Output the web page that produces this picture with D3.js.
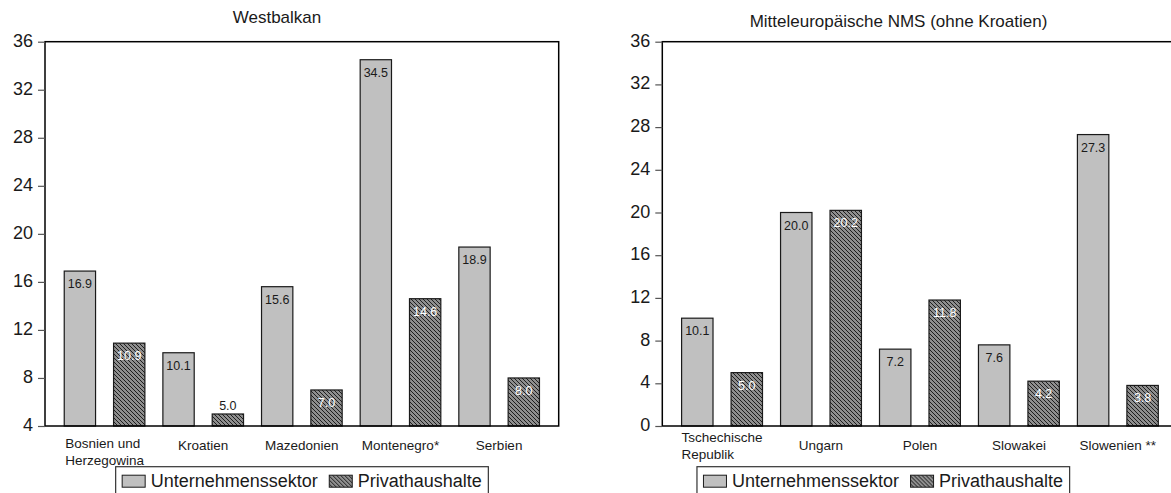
<!DOCTYPE html>
<html><head><meta charset="utf-8">
<script src="https://cdn.jsdelivr.net/npm/d3@7"></script>
<style>
html,body{margin:0;padding:0;background:#fff;}
svg{display:block;font-family:"Liberation Sans",Arial,sans-serif;}
</style></head><body>
<svg id="chart" width="1171" height="493"></svg>
<script>
// ---------- data ----------
const seriesNames = ["Unternehmenssektor", "Privathaushalte"];

const wbTitle = "Westbalkan";
const wbCategories = [["Bosnien und", "Herzegowina"], ["Kroatien"], ["Mazedonien"], ["Montenegro*"], ["Serbien"]];
const wbUnternehmen = [16.9, 10.1, 15.6, 34.5, 18.9];
const wbPrivat = [10.9, 5.0, 7.0, 14.6, 8.0];
const wbTicks = [4, 8, 12, 16, 20, 24, 28, 32, 36];

const nmsTitle = "Mitteleuropäische NMS (ohne Kroatien)";
const nmsCategories = [["Tschechische", "Republik"], ["Ungarn"], ["Polen"], ["Slowakei"], ["Slowenien **"]];
const nmsUnternehmen = [10.1, 20.0, 7.2, 7.6, 27.3];
const nmsPrivat = [5.0, 20.2, 11.8, 4.2, 3.8];
const nmsTicks = [0, 4, 8, 12, 16, 20, 24, 28, 32, 36];

// ---------- drawing ----------
const svg = d3.select("#chart");
const defs = svg.append("defs");
const pat = defs.append("pattern").attr("id", "hatch")
  .attr("patternUnits", "userSpaceOnUse").attr("width", 4).attr("height", 4);
pat.append("rect").attr("width", 4).attr("height", 4).attr("fill", "#8e8e8e");
pat.append("path").attr("d", "M-1,-1L5,5M3,-1L5,1M-1,3L1,5")
  .attr("stroke", "#1e1e1e").attr("stroke-width", 1);

const fills = ["#c0c0c0", "url(#hatch)"];
const TOP = 41.7, BOTTOM = 426;

function panel(cfg) {
  const g = svg.append("g");
  const n = cfg.cats.length;
  const keys = [];
  for (let i = 0; i < n; i++) { keys.push(i + "|0"); keys.push(i + "|1"); }
  const x = d3.scaleBand().domain(keys).range([cfg.x0, cfg.x1])
    .paddingInner(0.365).paddingOuter(0.39);
  const y = d3.scaleLinear().domain([cfg.ticks[0], cfg.ticks[cfg.ticks.length - 1]]).range([BOTTOM, TOP]);
  const bw = x.bandwidth();

  const data = [];
  for (let i = 0; i < n; i++) {
    data.push({ i, s: 0, v: cfg.u[i] });
    data.push({ i, s: 1, v: cfg.p[i] });
  }

  // bars
  g.selectAll("rect.bar").data(data).enter().append("rect")
    .attr("class", "bar")
    .attr("x", d => x(d.i + "|" + d.s))
    .attr("y", d => y(d.v))
    .attr("width", bw)
    .attr("height", d => y(cfg.ticks[0]) - y(d.v))
    .attr("fill", d => fills[d.s])
    .attr("stroke", "#1a1a1a").attr("stroke-width", 1.2);

  // value labels
  g.selectAll("text.val").data(data).enter().append("text")
    .attr("class", "val")
    .attr("x", d => x(d.i + "|" + d.s) + bw / 2)
    .attr("y", d => (y(cfg.ticks[0]) - y(d.v) < 22) ? y(d.v) - 4 : y(d.v) + 17)
    .attr("text-anchor", "middle")
    .attr("font-size", 12.5)
    .attr("fill", d => (d.s === 1 && y(cfg.ticks[0]) - y(d.v) >= 22) ? "#ffffff" : "#1a1a1a")
    .text(d => d.v.toFixed(1));

  // frame
  g.append("rect").attr("x", cfg.x0).attr("y", TOP)
    .attr("width", cfg.x1 - cfg.x0).attr("height", BOTTOM - TOP)
    .attr("fill", "none").attr("stroke", "#000").attr("stroke-width", 1.5);

  // y axis
  const ax = g.append("g").attr("transform", `translate(${cfg.x0},0)`)
    .call(d3.axisLeft(y).tickValues(cfg.ticks).tickSize(7).tickPadding(5).tickFormat(d3.format("d")));
  ax.select(".domain").remove();
  ax.selectAll(".tick line").attr("stroke", "#555").attr("stroke-width", 1.2);
  ax.selectAll(".tick text").attr("font-size", 18).attr("fill", "#1a1a1a")
    .attr("font-family", "Liberation Sans, Arial, sans-serif").attr("dy", "0.25em");

  // category labels
  cfg.cats.forEach((lines, i) => {
    const cx = (x(i + "|0") + x(i + "|1") + bw) / 2;
    const t = g.append("text").attr("font-size", 13.5).attr("fill", "#1a1a1a");
    if (lines.length === 1) {
      t.attr("x", cx).attr("y", 449.5).attr("text-anchor", "middle").text(lines[0]);
    } else {
      lines.forEach((ln, k) => {
        t.append("tspan").attr("y", cfg.multiY + k * 17).text(ln);
      });
      // widest line centred, lines left aligned
      let maxW = 0;
      t.selectAll("tspan").each(function () { maxW = Math.max(maxW, this.getComputedTextLength()); });
      t.selectAll("tspan").attr("x", cx - maxW / 2);
    }
  });

  // title
  g.append("text").attr("x", cfg.titleX).attr("y", cfg.titleY)
    .attr("text-anchor", "middle").attr("font-size", 17).attr("fill", "#1a1a1a")
    .text(cfg.title);

  // legend
  const lg = g.append("g");
  const boxTop = 466.7;
  const items = seriesNames.map((name, s) => {
    const it = lg.append("g");
    it.append("rect").attr("width", 23).attr("height", 12).attr("y", boxTop + 8.5)
      .attr("fill", fills[s]).attr("stroke", "#1a1a1a").attr("stroke-width", 1);
    const tx = it.append("text").attr("x", 28.5).attr("y", boxTop + 20.5)
      .attr("font-size", 18).attr("fill", "#1a1a1a").text(name);
    return { it, w: 28.5 + tx.node().getComputedTextLength() };
  });
  const totalW = 6.5 + items[0].w + 11.5 + items[1].w + 6.5;
  const left = cfg.legendCX - totalW / 2;
  lg.insert("rect", ":first-child").attr("x", left).attr("y", boxTop)
    .attr("width", totalW).attr("height", 34)
    .attr("fill", "#fff").attr("stroke", "#333").attr("stroke-width", 1.2);
  items[0].it.attr("transform", `translate(${left + 6.5},0)`);
  items[1].it.attr("transform", `translate(${left + 6.5 + items[0].w + 11.5},0)`);
}

panel({ title: wbTitle, cats: wbCategories, u: wbUnternehmen, p: wbPrivat, ticks: wbTicks,
  x0: 45, x1: 558.7, titleX: 277, titleY: 22.5, legendCX: 302, multiY: 447.5 });
panel({ title: nmsTitle, cats: nmsCategories, u: nmsUnternehmen, p: nmsPrivat, ticks: nmsTicks,
  x0: 662.3, x1: 1177.6, titleX: 898.5, titleY: 26.5, legendCX: 883.3, multiY: 442 });
</script>
</body></html>
